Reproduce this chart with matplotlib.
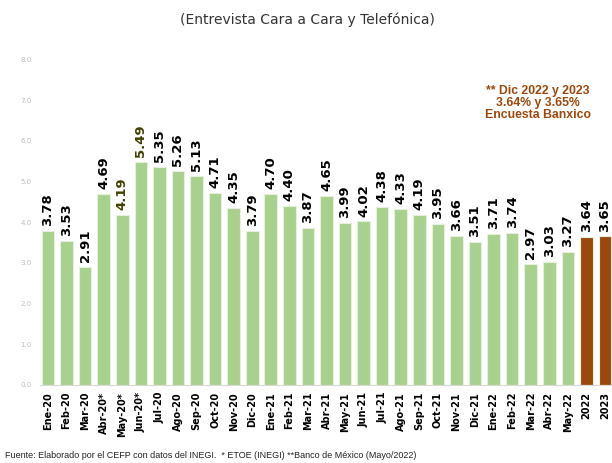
# Tasa de desocupacion - Entrevista Cara a Cara y Telefonica

import matplotlib
matplotlib.use("Agg")
import matplotlib.pyplot as plt

# ----------------------------
# 1. Data
# ----------------------------
months = ["Ene-20", "Feb-20", "Mar-20", "Abr-20*", "May-20*", "Jun-20*", "Jul-20",
          "Ago-20", "Sep-20", "Oct-20", "Nov-20", "Dic-20", "Ene-21", "Feb-21",
          "Mar-21", "Abr-21", "May-21", "Jun-21", "Jul-21", "Ago-21", "Sep-21",
          "Oct-21", "Nov-21", "Dic-21", "Ene-22", "Feb-22", "Mar-22", "Abr-22",
          "May-22", "2022", "2023"]

values = [3.78, 3.53, 2.91, 4.69, 4.19, 5.49, 5.35, 5.26, 5.13, 4.71, 4.35, 3.79,
          4.70, 4.40, 3.87, 4.65, 3.99, 4.02, 4.38, 4.33, 4.19, 3.95, 3.66, 3.51,
          3.71, 3.74, 2.97, 3.03, 3.27, 3.64, 3.65]

forecast = ["2022", "2023"]
highlight = ["May-20*", "Jun-20*"]

green = "#A9D18E"
brown = "#9C480C"

# ----------------------------
# 2. Figure
# ----------------------------
fig = plt.figure(figsize=(6.12, 4.63), dpi=100)
ax = fig.add_axes([0.0654, 0.1685, 0.9346, 0.703])

colors = [brown if m in forecast else green for m in months]
x = range(len(months))
bars = ax.bar(x, values, width=0.68, color=colors, edgecolor="#E6F0DE", linewidth=0.8)

for xi, v, m in zip(x, values, months):
    c = "#3F3F00" if m in highlight else "black"
    ax.text(xi, v + 0.12, f"{v:.2f}", rotation=90, ha="center", va="bottom",
            fontsize=9.5, fontweight="bold", color=c)

ax.set_xlim(-0.43, 30.38)
ax.set_ylim(0, 8)
ax.set_xticks(list(x))
ax.set_xticklabels(months, rotation=90, fontsize=7, fontweight="bold")
ax.set_yticks([0, 1, 2, 3, 4, 5, 6, 7, 8])
ax.set_yticklabels([f"{t:.1f}" for t in range(9)], fontsize=5, color="#BFBFBF")
ax.tick_params(axis="both", length=0)
ax.tick_params(axis="y", pad=6)
ax.tick_params(axis="x", pad=5)

for s in ["top", "right", "left"]:
    ax.spines[s].set_visible(False)
ax.spines["bottom"].set_color("#D9D9D9")

# ----------------------------
# 3. Texts
# ----------------------------
fig.text(0.503, 0.957, "(Entrevista Cara a Cara y Telefónica)", ha="center", va="center",
         fontsize=10, color="#333333")

fig.text(0.879, 0.777, "** Dic 2022 y 2023\n3.64% y 3.65%\nEncuesta Banxico",
         ha="center", va="center", fontsize=8.8, fontweight="bold", color=brown,
         family="Liberation Sans", linespacing=1.0)

fig.text(0.008, 0.017, "Fuente: Elaborado por el CEFP con datos del INEGI.  * ETOE (INEGI) **Banco de México (Mayo/2022)",
         ha="left", va="center", fontsize=6.5, color="#222222", family="Liberation Sans")

plt.savefig("out.png", dpi=100)
